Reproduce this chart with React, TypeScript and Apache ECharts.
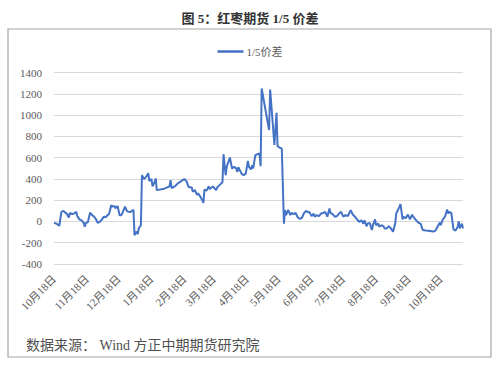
import React, { useEffect, useRef } from "react";
import * as echarts from "echarts";

const startDate = "2021-10-18";
const endDate = "2022-11-08";
const yTicks = [-400, -200, 0, 200, 400, 600, 800, 1000, 1200, 1400];
const seriesName = "1/5价差";

const dates = [
  "2021-10-18", "2021-10-21", "2021-10-23", "2021-10-25", "2021-10-27", "2021-10-29", "2021-10-30",
  "2021-11-01", "2021-11-02", "2021-11-04", "2021-11-06", "2021-11-08", "2021-11-09", "2021-11-11",
  "2021-11-13", "2021-11-15", "2021-11-16", "2021-11-17", "2021-11-19", "2021-11-21", "2021-11-23",
  "2021-11-25", "2021-11-27", "2021-11-28", "2021-11-30", "2021-12-02", "2021-12-04", "2021-12-06",
  "2021-12-07", "2021-12-09", "2021-12-11", "2021-12-12", "2021-12-14", "2021-12-15", "2021-12-17",
  "2021-12-19", "2021-12-21", "2021-12-24", "2021-12-26", "2021-12-29", "2022-01-01", "2022-01-02",
  "2022-01-04", "2022-01-05", "2022-01-06", "2022-01-08", "2022-01-09", "2022-01-11", "2022-01-13",
  "2022-01-15", "2022-01-16", "2022-01-18", "2022-01-19", "2022-01-21", "2022-01-22", "2022-01-23",
  "2022-01-29", "2022-02-04", "2022-02-05", "2022-02-06", "2022-02-09", "2022-02-12", "2022-02-15",
  "2022-02-18", "2022-02-20", "2022-02-22", "2022-02-25", "2022-02-26", "2022-02-28", "2022-03-02",
  "2022-03-03", "2022-03-05", "2022-03-07", "2022-03-08", "2022-03-09", "2022-03-11", "2022-03-13",
  "2022-03-14", "2022-03-17", "2022-03-20", "2022-03-21", "2022-03-23", "2022-03-25", "2022-03-26",
  "2022-03-27", "2022-03-29", "2022-03-30", "2022-04-02", "2022-04-04", "2022-04-06", "2022-04-08",
  "2022-04-09", "2022-04-10", "2022-04-11", "2022-04-13", "2022-04-15", "2022-04-17", "2022-04-19",
  "2022-04-20", "2022-04-22", "2022-04-23", "2022-04-24", "2022-04-26", "2022-04-28", "2022-04-30",
  "2022-05-01", "2022-05-02", "2022-05-09", "2022-05-10", "2022-05-14", "2022-05-16", "2022-05-17",
  "2022-05-18", "2022-05-21", "2022-05-23", "2022-05-24", "2022-05-25", "2022-05-27", "2022-05-29",
  "2022-05-30", "2022-06-01", "2022-06-03", "2022-06-05", "2022-06-07", "2022-06-09", "2022-06-11",
  "2022-06-13", "2022-06-15", "2022-06-16", "2022-06-18", "2022-06-20", "2022-06-21", "2022-06-23",
  "2022-06-25", "2022-06-27", "2022-06-29", "2022-07-01", "2022-07-03", "2022-07-05", "2022-07-06",
  "2022-07-08", "2022-07-10", "2022-07-12", "2022-07-14", "2022-07-16", "2022-07-18", "2022-07-20",
  "2022-07-22", "2022-07-23", "2022-07-25", "2022-07-27", "2022-07-29", "2022-07-31", "2022-08-02",
  "2022-08-04", "2022-08-06", "2022-08-07", "2022-08-09", "2022-08-10", "2022-08-12", "2022-08-14",
  "2022-08-15", "2022-08-17", "2022-08-18", "2022-08-20", "2022-08-21", "2022-08-23", "2022-08-25",
  "2022-08-26", "2022-08-28", "2022-08-30", "2022-09-01", "2022-09-03", "2022-09-05", "2022-09-06",
  "2022-09-09", "2022-09-10", "2022-09-12", "2022-09-13", "2022-09-15", "2022-09-17", "2022-09-19",
  "2022-09-21", "2022-09-22", "2022-09-24", "2022-09-27", "2022-09-29", "2022-10-01", "2022-10-04",
  "2022-10-08", "2022-10-11", "2022-10-13", "2022-10-15", "2022-10-17", "2022-10-18", "2022-10-20",
  "2022-10-22", "2022-10-24", "2022-10-25", "2022-10-26", "2022-10-28", "2022-10-30", "2022-11-01",
  "2022-11-03", "2022-11-04", "2022-11-05", "2022-11-07", "2022-11-08",
];

const values = [
  -10, -25, -40, 90, 100, 80, 75,
  37, 80, 70, 75, 90, 50, 20,
  10, -12, -50, -15, -5, 82, 60,
  45, 15, -12, -5, 15, 45, 40,
  55, 70, 153, 140, 145, 125, 145,
  55, 65, 140, 95, 88, 110, -130,
  -95, -120, -65, -35, 435, 400, 420,
  455, 380, 400, 330, 370, 405, 295,
  305, 330, 388, 315, 330, 360, 380,
  400, 380, 325, 320, 280, 295, 250,
  265, 235, 200, 175, 300, 290, 330,
  305, 330, 295, 320, 340, 360, 370,
  633, 435, 514, 602, 498, 514, 500,
  467, 510, 490, 450, 435, 450, 570,
  514, 490, 530, 500, 624, 633, 640,
  520, 1251, 860, 1242, 720, 1022, 708,
  700, 685, -20, 107, 60, 110, 60,
  80, 70, 80, 40, 25, 35, 80,
  100, 85, 90, 50, 75, 45, 60,
  50, 75, 80, 90, 45, 122, 80,
  70, 45, 50, 75, 90, 45, 60,
  50, 65, 106, 65, 45, 20, -3,
  10, -20, 10, -45, -20, -15, -80,
  -35, 20, -35, -20, -50, -35, -45,
  -65, -65, -45, -65, -97, -20, 75,
  137, 163, 20, 45, 30, 65, 20,
  65, 45, 20, -12, -20, -80, -85,
  -90, -95, -85, -50, -12, -35, 20,
  45, 113, 75, 90, 80, -75, -85,
  -50, 0, -65, -20, -65,
];

function buildCalendar(start: string, end: string): string[] {
  const out: string[] = [];
  const d = new Date(start + "T00:00:00Z");
  const e = new Date(end + "T00:00:00Z");
  while (d.getTime() <= e.getTime()) {
    out.push(d.toISOString().slice(0, 10));
    d.setUTCDate(d.getUTCDate() + 1);
  }
  return out;
}

const SERIF = "'Liberation Serif', 'Times New Roman', 'Noto Sans CJK SC', serif";

export default function App() {
  const ref = useRef<HTMLDivElement>(null);
  useEffect(() => {
    if (!ref.current) return;
    const chart = echarts.init(ref.current, null, { renderer: "svg" });
    const categories = buildCalendar(startDate, endDate);
    const data = dates.map((d, i) => [d, values[i]]);
    chart.setOption({
      animation: false,
      backgroundColor: "#ffffff",
      textStyle: { fontFamily: SERIF },
      graphic: [
        {
          type: "rect",
          shape: { x: 8, y: 29, width: 483, height: 328 },
          style: { fill: "none", stroke: "#a6a6a6", lineWidth: 1.2 },
          silent: true,
        },
        {
          type: "text",
          x: 250,
          y: 18,
          style: {
            text: "图 5：红枣期货 1/5 价差",
            fontFamily: SERIF,
            fontSize: 13,
            fontWeight: "bold",
            fill: "#333333",
            align: "center",
            verticalAlign: "middle",
          },
        },
        {
          type: "text",
          x: 26,
          y: 345,
          style: {
            text: "数据来源： Wind 方正中期期货研究院",
            fontFamily: SERIF,
            fontSize: 14,
            fill: "#505050",
            align: "left",
            verticalAlign: "middle",
          },
        },
      ],
      legend: {
        top: 41,
        left: "center",
        icon: "rect",
        itemWidth: 26,
        itemHeight: 2.5,
        itemGap: 10,
        textStyle: { fontSize: 11, color: "#595959", fontFamily: SERIF, padding: [0, 0, 0, -2] },
        data: [seriesName],
      },
      grid: { left: 54, right: 37, top: 72.7, bottom: 102 },
      xAxis: {
        type: "category",
        data: categories,
        boundaryGap: false,
        axisLine: { show: false },
        axisTick: { show: false },
        splitLine: { show: false },
        axisLabel: {
          interval: (_i: number, v: string) => v.slice(8) === "18",
          rotate: 45,
          margin: 13,
          fontSize: 11,
          color: "#595959",
          fontFamily: SERIF,
          formatter: (v: string) => `${Number(v.slice(5, 7))}月${Number(v.slice(8))}日`,
        },
      },
      yAxis: {
        type: "value",
        min: yTicks[0],
        max: yTicks[yTicks.length - 1],
        interval: 200,
        axisLine: { show: false },
        axisTick: { show: false },
        splitLine: { lineStyle: { color: "#d9d9d9", width: 1 } },
        axisLabel: {
          fontSize: 11,
          color: "#595959",
          margin: 12,
          fontFamily: SERIF,
          formatter: (v: number) => String(v),
        },
      },
      series: [
        {
          name: seriesName,
          type: "line",
          data,
          symbol: "none",
          lineStyle: { color: "#4472c4", width: 2 },
          itemStyle: { color: "#4472c4" },
        },
      ],
    });
    return () => chart.dispose();
  }, []);
  return (
    <div
      ref={ref}
      style={{ position: "absolute", left: 0, top: 0, width: 500, height: 366 }}
    />
  );
}
